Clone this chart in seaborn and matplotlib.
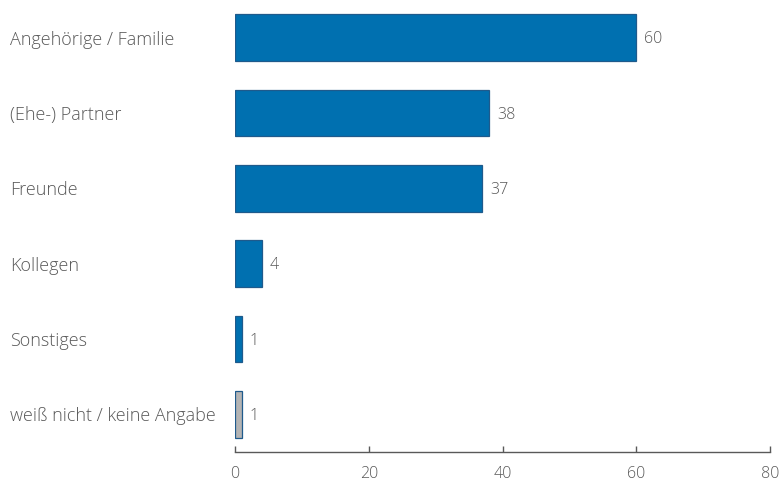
import matplotlib
matplotlib.use("Agg")
import matplotlib.pyplot as plt
import pandas as pd
import seaborn as sns

categories = [
    "Angehörige / Familie",
    "(Ehe-) Partner",
    "Freunde",
    "Kollegen",
    "Sonstiges",
    "weiß nicht / keine Angabe",
]
values = [60, 38, 37, 4, 1, 1]
bar_colors = ["#0070B0", "#0070B0", "#0070B0", "#0070B0", "#0070B0", "#B4B4B4"]
x_ticks = [0, 20, 40, 60, 80]

sns.set_style("white")
plt.rcParams["font.family"] = ["Open Sans", "DejaVu Sans"]
text_color = "#595959"

df = pd.DataFrame({"cat": categories, "val": values})

fig = plt.figure(figsize=(7.79, 4.82), dpi=100)
ax = fig.add_axes([235 / 779, 30 / 482, 535 / 779, 452 / 482])

sns.barplot(
    data=df, x="val", y="cat", hue="cat", palette=bar_colors, legend=False,
    orient="h", width=0.62, saturation=1, edgecolor="#1F5A8C", linewidth=0.9,
    ax=ax,
)

for i, v in enumerate(values):
    ax.text(v + 1.2, i + 0.02, str(v), va="center", ha="left", fontsize=11.5,
            color=text_color, fontweight="light")

ax.set_xlim(0, 80)
ax.set_ylim(5.5, -0.5)
ax.set_xticks(x_ticks)
ax.set_xlabel("")
ax.set_ylabel("")
sns.despine(ax=ax, left=True, top=True, right=True)
ax.spines["bottom"].set_color("#595959")
ax.spines["bottom"].set_linewidth(1.0)
ax.tick_params(axis="x", bottom=True, direction="in", length=4, width=1.0,
               color="#595959", labelsize=11.5, labelcolor=text_color, pad=10)
ax.tick_params(axis="y", length=0, pad=162, labelsize=13, labelcolor=text_color)
for lab in ax.get_yticklabels():
    lab.set_horizontalalignment("left")
    lab.set_fontweight("light")
for lab in ax.get_xticklabels():
    lab.set_fontweight("light")

fig.savefig("out.png", dpi=100)
